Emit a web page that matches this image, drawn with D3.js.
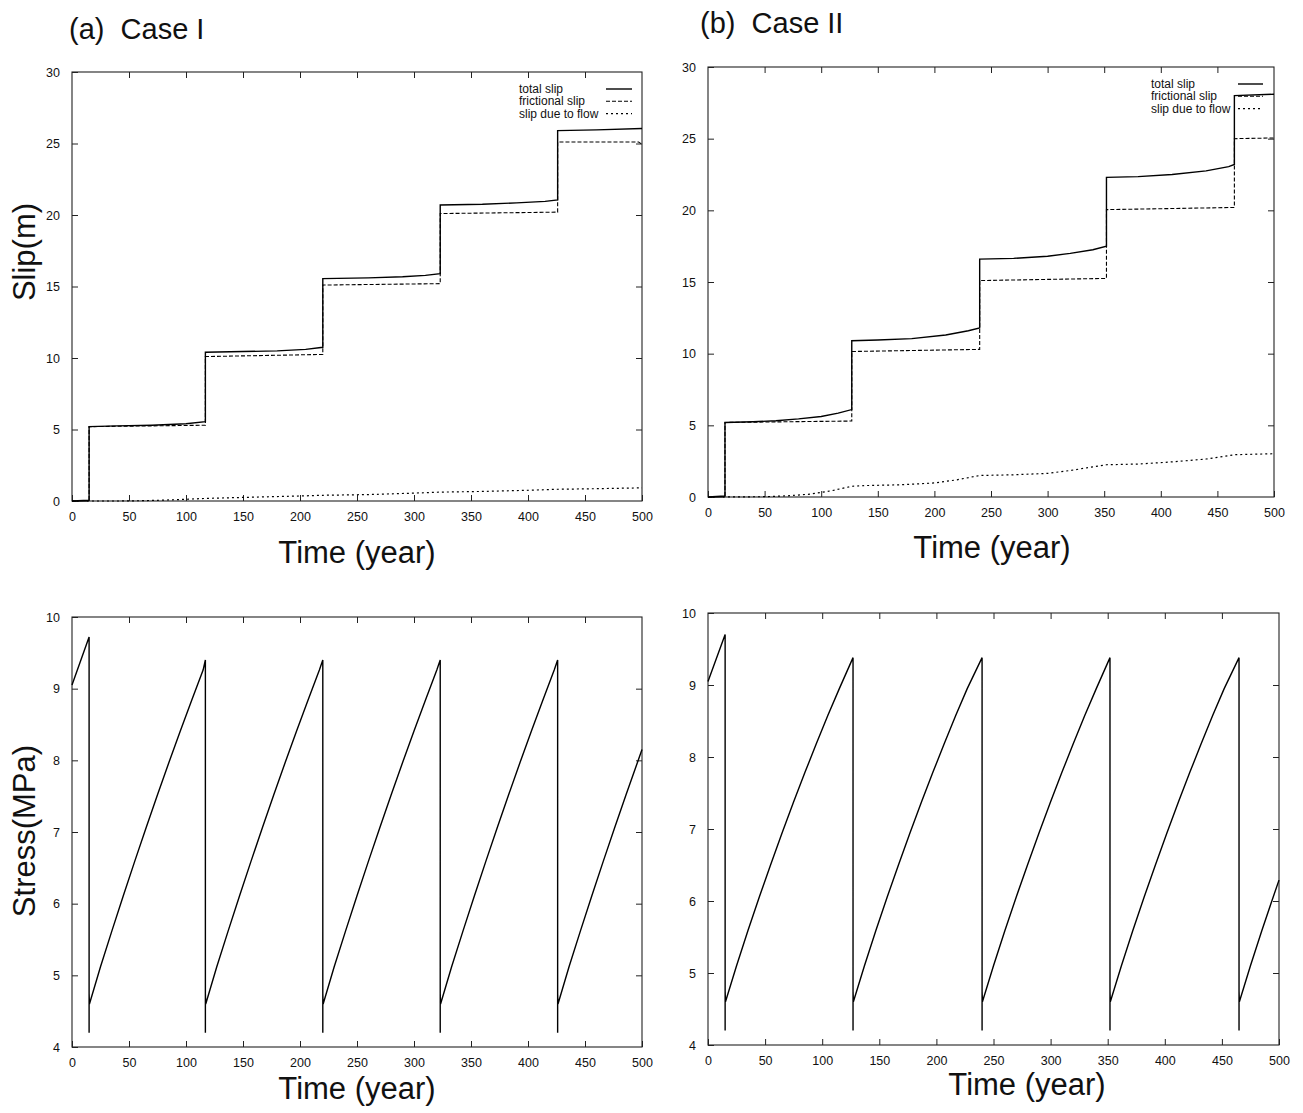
<!DOCTYPE html>
<html>
<head>
<meta charset="utf-8">
<script src="https://cdn.jsdelivr.net/npm/d3@7"></script>
<style>
  html, body { margin: 0; padding: 0; background: #fff; }
  svg text { font-family: "Liberation Sans", Arial, sans-serif; fill: #111; white-space: pre; }
</style>
</head>
<body>
<svg id="chart" width="1303" height="1113"></svg>
<script>
// ---------------- DATA ----------------
const xTicks = [0, 50, 100, 150, 200, 250, 300, 350, 400, 450, 500];
const slipTicks = [0, 5, 10, 15, 20, 25, 30];
const stressTicks = [4, 5, 6, 7, 8, 9, 10];
const legendLabels = ["total slip", "frictional slip", "slip due to flow"];

// Case I
const case1Total = [[0,0],[15,0.05],[15,5.2],[40,5.25],[70,5.3],[100,5.4],[117,5.55],[117,10.4],[150,10.45],[180,10.5],[205,10.6],[220,10.75],[220,15.55],[260,15.6],[290,15.68],[310,15.78],[323,15.9],[323,20.7],[360,20.75],[390,20.85],[415,20.95],[426,21.05],[426,25.9],[460,25.95],[500,26.05]];
const case1Fric = [[0,0],[15,0],[15,5.2],[117,5.3],[117,10.1],[220,10.25],[220,15.1],[323,15.2],[323,20.1],[426,20.2],[426,25.1],[497,25.1],[500,24.95]];
const case1Flow = [[0,0],[40,0],[60,0.02],[80,0.06],[100,0.12],[117,0.18],[150,0.25],[200,0.35],[220,0.4],[260,0.45],[300,0.55],[323,0.62],[360,0.67],[400,0.75],[426,0.82],[460,0.86],[500,0.92]];
const case1Stress = [[0,9.05],[15,9.72],[15,4.2],[15,4.75],[15.3,4.6],
  [25,5.12],[35,5.62],[45,6.11],[55,6.59],[65,7.06],[75,7.52],[85,7.97],[95,8.41],[105,8.84],[115,9.26],[117,9.4],
  [117,4.2],[117,4.75],[117.3,4.6],
  [127,5.12],[137,5.62],[147,6.11],[157,6.59],[167,7.06],[177,7.52],[187,7.97],[197,8.41],[207,8.84],[217,9.26],[220,9.4],
  [220,4.2],[220,4.75],[220.3,4.6],
  [230,5.12],[240,5.62],[250,6.11],[260,6.59],[270,7.06],[280,7.52],[290,7.97],[300,8.41],[310,8.84],[320,9.26],[323,9.4],
  [323,4.2],[323,4.75],[323.3,4.6],
  [333,5.12],[343,5.62],[353,6.11],[363,6.59],[373,7.06],[383,7.52],[393,7.97],[403,8.41],[413,8.84],[423,9.26],[426,9.4],
  [426,4.2],[426,4.75],[426.3,4.6],
  [436,5.12],[446,5.62],[456,6.11],[466,6.59],[476,7.06],[486,7.52],[496,7.97],[500,8.15]];

// Case II
const case2Total = [[0,0],[15,0.07],[15,5.2],[40,5.25],[60,5.32],[80,5.45],[100,5.62],[115,5.85],[127,6.1],[127,10.9],[150,10.95],[180,11.05],[210,11.3],[230,11.6],[240,11.8],[240,16.6],[270,16.65],[300,16.8],[320,17.0],[340,17.25],[352,17.5],[352,22.3],[380,22.35],[410,22.5],[440,22.75],[460,23.05],[465,23.2],[465,28.0],[500,28.1]];
const case2Fric = [[0,0],[15,0],[15,5.2],[127,5.3],[127,10.15],[240,10.3],[240,15.1],[352,15.25],[352,20.05],[465,20.2],[465,25.0],[500,25.05]];
const case2Flow = [[0,0],[50,0.02],[70,0.08],[90,0.2],[110,0.45],[127,0.75],[140,0.8],[170,0.85],[200,0.98],[220,1.2],[240,1.5],[270,1.55],[300,1.65],[320,1.85],[340,2.1],[352,2.25],[380,2.3],[410,2.45],[440,2.65],[465,2.95],[500,3.02]];
const case2Stress = [[0,9.05],[15,9.7],[15,4.2],[15,4.75],[15.3,4.6],
  [25,5.1],[35,5.59],[45,6.06],[55,6.51],[65,6.95],[75,7.38],[85,7.79],[95,8.19],[105,8.58],[115,8.95],[127,9.38],
  [127,4.2],[127,4.75],[127.3,4.6],
  [137,5.1],[147,5.59],[157,6.06],[167,6.51],[177,6.95],[187,7.38],[197,7.79],[207,8.19],[217,8.58],[227,8.95],[240,9.38],
  [240,4.2],[240,4.75],[240.3,4.6],
  [250,5.1],[260,5.59],[270,6.06],[280,6.51],[290,6.95],[300,7.38],[310,7.79],[320,8.19],[330,8.58],[340,8.95],[352,9.38],
  [352,4.2],[352,4.75],[352.3,4.6],
  [362,5.1],[372,5.59],[382,6.06],[392,6.51],[402,6.95],[412,7.38],[422,7.79],[432,8.19],[442,8.58],[452,8.95],[465,9.38],
  [465,4.2],[465,4.75],[465.3,4.6],
  [475,5.1],[485,5.59],[495,6.06],[500,6.29]];

// ---------------- DRAWING ----------------
const svg = d3.select("#chart");

const styles = {
  total: {w: 1.4, dash: null},
  fric:  {w: 1.1, dash: "4,2"},
  flow:  {w: 1.2, dash: "2,3"},
  stress:{w: 1.4, dash: null}
};

function panel(box, yDomain, yTicks, series, legend) {
  const x = d3.scaleLinear().domain([0, 500]).range([box.x0, box.x1]);
  const y = d3.scaleLinear().domain(yDomain).range([box.y1, box.y0]);
  const g = svg.append("g");
  const tl = 6;

  g.append("rect").attr("x", box.x0).attr("y", box.y0)
    .attr("width", box.x1 - box.x0).attr("height", box.y1 - box.y0)
    .attr("fill", "none").attr("stroke", "#222").attr("stroke-width", 1.1);

  const bottom = g.append("g").attr("transform", `translate(0,${box.y1})`)
    .call(d3.axisBottom(x).tickValues(xTicks).tickSize(-tl).tickPadding(tl + 5).tickFormat(d3.format("d")));
  const top = g.append("g").attr("transform", `translate(0,${box.y0})`)
    .call(d3.axisTop(x).tickValues(xTicks.slice(1, -1)).tickSize(-tl).tickFormat(""));
  const left = g.append("g").attr("transform", `translate(${box.x0},0)`)
    .call(d3.axisLeft(y).tickValues(yTicks).tickSize(-tl).tickPadding(tl + 6).tickFormat(d3.format("d")));
  const right = g.append("g").attr("transform", `translate(${box.x1},0)`)
    .call(d3.axisRight(y).tickValues(yTicks.slice(1, -1)).tickSize(-tl).tickFormat(""));
  [bottom, top, left, right].forEach(a => {
    a.select(".domain").remove();
    a.selectAll("line").attr("stroke", "#222").attr("stroke-width", 1);
    a.selectAll("text").attr("font-size", 12.5).attr("fill", "#222")
      .style("font-family", '"Liberation Sans", Arial, sans-serif');
  });

  const line = d3.line().x(d => x(d[0])).y(d => y(d[1]));
  series.forEach(s => {
    g.append("path").datum(s.data).attr("d", line)
      .attr("fill", "none").attr("stroke", "#000")
      .attr("stroke-width", styles[s.style].w)
      .attr("stroke-dasharray", styles[s.style].dash)
      .attr("stroke-linejoin", "miter");
  });

  if (legend) {
    legendLabels.forEach((lab, i) => {
      const yy = legend.y + i * legend.dy;
      g.append("text").attr("x", legend.tx).attr("y", yy + 4)
        .attr("font-size", 12).text(lab);
      const st = styles[["total", "fric", "flow"][i]];
      g.append("line").attr("x1", legend.lx0).attr("x2", legend.lx1)
        .attr("y1", yy).attr("y2", yy)
        .attr("stroke", "#000").attr("stroke-width", st.w)
        .attr("stroke-dasharray", st.dash);
    });
  }
}

panel({x0: 72, x1: 642, y0: 72, y1: 501}, [0, 30], slipTicks,
  [{data: case1Total, style: "total"}, {data: case1Fric, style: "fric"}, {data: case1Flow, style: "flow"}],
  {tx: 519, y: 89, dy: 12.3, lx0: 606, lx1: 632});
panel({x0: 708, x1: 1274, y0: 67, y1: 497}, [0, 30], slipTicks,
  [{data: case2Total, style: "total"}, {data: case2Fric, style: "fric"}, {data: case2Flow, style: "flow"}],
  {tx: 1151, y: 84, dy: 12.3, lx0: 1238, lx1: 1263});
panel({x0: 72, x1: 642, y0: 617, y1: 1047}, [4, 10], stressTicks,
  [{data: case1Stress, style: "stress"}], null);
panel({x0: 708, x1: 1279, y0: 613, y1: 1045}, [4, 10], stressTicks,
  [{data: case2Stress, style: "stress"}], null);

function label(txt, x, y, size, rot) {
  const t = svg.append("text").attr("font-size", size).attr("text-anchor", rot !== undefined ? "middle" : "start").text(txt);
  if (rot !== undefined) t.attr("transform", `translate(${x},${y}) rotate(${rot})`);
  else t.attr("x", x).attr("y", y);
  return t;
}
label("(a)  Case I", 69, 39, 29);
label("(b)  Case II", 700, 33, 29);
label("Slip(m)", 35, 252, 31, -90);
label("Stress(MPa)", 35, 831, 31, -90);
label("Time (year)", 357, 563, 31, 0);
label("Time (year)", 992, 558, 31, 0);
label("Time (year)", 357, 1099, 31, 0);
label("Time (year)", 1027, 1095, 31, 0);
</script>
</body>
</html>
